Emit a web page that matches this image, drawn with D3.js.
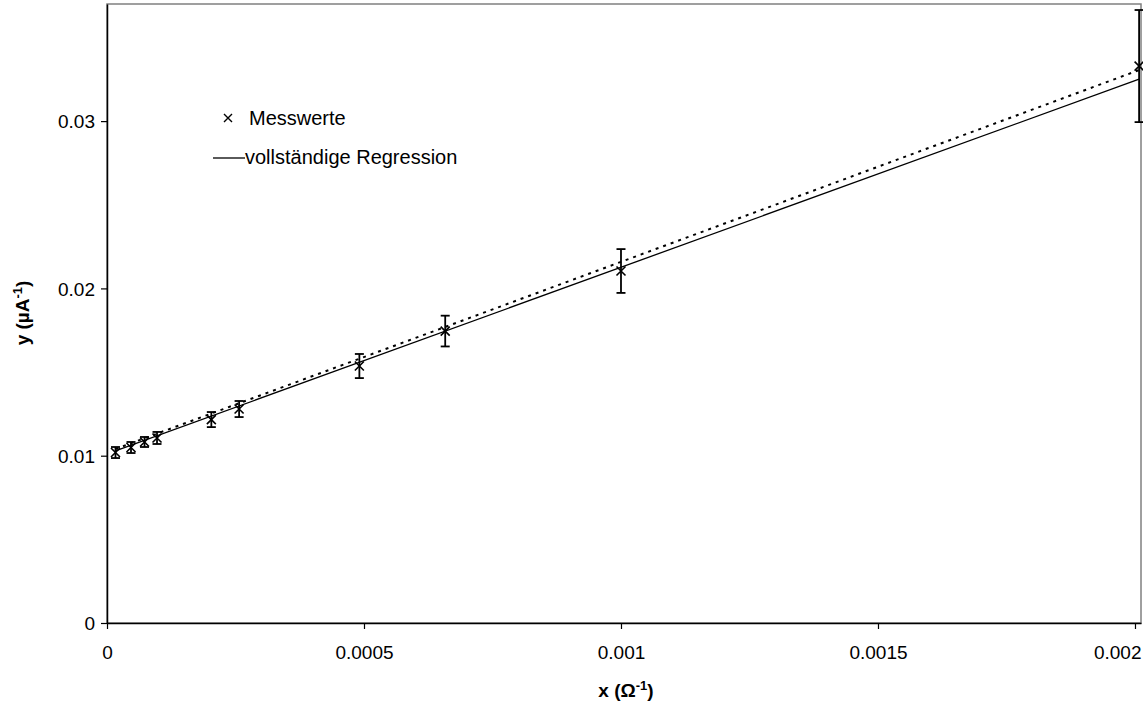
<!DOCTYPE html>
<html>
<head>
<meta charset="utf-8">
<script src="https://cdn.jsdelivr.net/npm/d3@7"></script>
<style>
  body { margin: 0; background: #fff; }
  svg { font-family: "Liberation Sans", Arial, sans-serif; }
</style>
</head>
<body>
<script>
// measured values (x in 1/Ohm, y in 1/µA)
var xValues = [0.0000165, 0.0000467, 0.000073, 0.0000973, 0.000203, 0.000257, 0.000491, 0.000658, 0.001000, 0.002008];
var yValues = [0.01019, 0.01049, 0.01082, 0.01106, 0.01216, 0.01279, 0.01536, 0.01745, 0.02104, 0.03329];
var yErrors = [0.00033, 0.00033, 0.00030, 0.00036, 0.00045, 0.00048, 0.00072, 0.00092, 0.00131, 0.00335];

// regression lines (end points)
var fullRegX = [0.0000165, 0.002008];
var fullRegY = [0.01029, 0.03251];
var dotRegX = [0.0000165, 0.002008];
var dotRegY = [0.01040, 0.03305];

var xTicks = [0, 0.0005, 0.001, 0.0015, 0.002];
var yTicks = [0, 0.01, 0.02, 0.03];

var svgWidth = 1143;
var svgHeight = 703;
var margin = { top: 4, right: 2, bottom: 80, left: 107 };
var chartWidth = svgWidth - margin.left - margin.right;
var chartHeight = svgHeight - margin.top - margin.bottom;

var svg = d3.select("body").append("svg")
  .attr("width", svgWidth)
  .attr("height", svgHeight);

var chartGroup = svg.append("g")
  .attr("transform", `translate(${margin.left}, ${margin.top})`);

var xScale = d3.scaleLinear().domain([0, 0.0020117]).range([0, chartWidth]);
var yScale = d3.scaleLinear().domain([0, 0.037]).range([chartHeight, 0]);

// plot frame
chartGroup.append("rect")
  .attr("x", 0).attr("y", 0)
  .attr("width", chartWidth).attr("height", chartHeight)
  .attr("fill", "none")
  .attr("stroke", "#808080")
  .attr("stroke-width", 1.5);

// axes
var xAxis = d3.axisBottom(xScale).tickValues(xTicks).tickSize(6).tickSizeOuter(0)
  .tickFormat(d => String(d));
var yAxis = d3.axisLeft(yScale).tickValues(yTicks).tickSize(6).tickSizeOuter(0)
  .tickFormat(d => String(d));

var gx = chartGroup.append("g")
  .attr("transform", `translate(0, ${chartHeight})`)
  .call(xAxis);
var gy = chartGroup.append("g").call(yAxis);

[gx, gy].forEach(function(g) {
  g.select(".domain").attr("stroke", "#000").attr("stroke-width", 1.5);
  g.selectAll(".tick line").attr("stroke", "#000").attr("stroke-width", 1.2);
  g.selectAll(".tick text")
    .attr("font-family", "Liberation Sans, Arial, sans-serif")
    .attr("font-size", 19)
    .attr("fill", "#000");
});
gx.selectAll(".tick text").attr("dy", "1.4em");
// last label is pushed inside the picture, as in the original
gx.selectAll(".tick text").filter(d => d === 0.002)
  .attr("text-anchor", "end")
  .attr("x", 6);
gy.selectAll(".tick text").attr("x", -12).attr("dy", "0.35em");

// axis titles
var xTitle = svg.append("text")
  .attr("x", margin.left + xScale(0.001) + 5)
  .attr("y", 697)
  .attr("text-anchor", "middle")
  .attr("font-size", 19)
  .attr("font-weight", "bold");
xTitle.append("tspan").text("x (Ω");
xTitle.append("tspan").attr("font-size", 13).attr("dy", -7).text("-1");
xTitle.append("tspan").attr("dy", 7).text(")");

var yTitle = svg.append("text")
  .attr("transform", "translate(29, 313) rotate(-90)")
  .attr("text-anchor", "middle")
  .attr("font-size", 19)
  .attr("font-weight", "bold");
yTitle.append("tspan").text("y (µA");
yTitle.append("tspan").attr("font-size", 13).attr("dy", -7).text("-1");
yTitle.append("tspan").attr("dy", 7).text(")");

// regression lines
var line = d3.line().x(d => xScale(d[0])).y(d => yScale(d[1]));

chartGroup.append("path")
  .datum(dotRegX.map((x, i) => [x, dotRegY[i]]))
  .attr("d", line)
  .attr("fill", "none")
  .attr("stroke", "#000")
  .attr("stroke-width", 2)
  .attr("stroke-dasharray", "3,5");

chartGroup.append("path")
  .datum(fullRegX.map((x, i) => [x, fullRegY[i]]))
  .attr("d", line)
  .attr("fill", "none")
  .attr("stroke", "#000")
  .attr("stroke-width", 1.3);

// error bars
var points = xValues.map((x, i) => ({ x: x, y: yValues[i], e: yErrors[i] }));
var capW = 4.5;

var errGroup = chartGroup.selectAll(".err")
  .data(points)
  .enter()
  .append("g")
  .classed("err", true)
  .attr("stroke", "#000")
  .attr("stroke-width", 1.8);

errGroup.append("line")
  .attr("x1", d => xScale(d.x)).attr("x2", d => xScale(d.x))
  .attr("y1", d => yScale(d.y + d.e)).attr("y2", d => yScale(d.y - d.e));
errGroup.append("line")
  .attr("x1", d => xScale(d.x) - capW).attr("x2", d => xScale(d.x) + capW)
  .attr("y1", d => yScale(d.y + d.e)).attr("y2", d => yScale(d.y + d.e));
errGroup.append("line")
  .attr("x1", d => xScale(d.x) - capW).attr("x2", d => xScale(d.x) + capW)
  .attr("y1", d => yScale(d.y - d.e)).attr("y2", d => yScale(d.y - d.e));

// x markers
var cross = "M-4.5,-4.5L4.5,4.5M-4.5,4.5L4.5,-4.5";
chartGroup.selectAll(".marker")
  .data(points)
  .enter()
  .append("path")
  .classed("marker", true)
  .attr("d", cross)
  .attr("transform", d => `translate(${xScale(d.x)}, ${yScale(d.y)})`)
  .attr("stroke", "#000")
  .attr("stroke-width", 1.6)
  .attr("fill", "none");

// legend
var legend = svg.append("g");
legend.append("path")
  .attr("d", "M-4,-4L4,4M-4,4L4,-4")
  .attr("transform", "translate(228, 118)")
  .attr("stroke", "#000")
  .attr("stroke-width", 1.4)
  .attr("fill", "none");
legend.append("text")
  .attr("x", 249).attr("y", 125)
  .attr("font-size", 20)
  .text("Messwerte");
legend.append("line")
  .attr("x1", 213).attr("x2", 245)
  .attr("y1", 158).attr("y2", 158)
  .attr("stroke", "#000")
  .attr("stroke-width", 1.3);
legend.append("text")
  .attr("x", 245).attr("y", 164)
  .attr("font-size", 20)
  .text("vollständige Regression");
</script>
</body>
</html>
